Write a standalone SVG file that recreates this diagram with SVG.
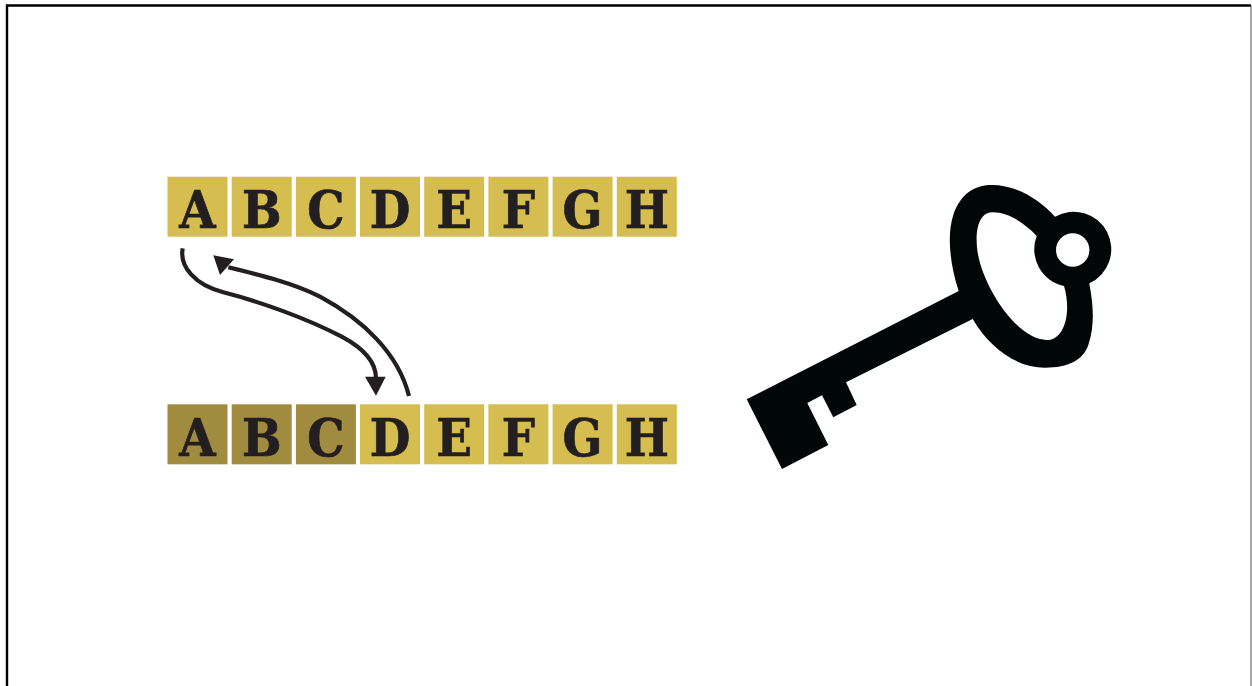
<svg xmlns="http://www.w3.org/2000/svg" width="1252" height="686" viewBox="0 0 1252 686">
<style>
.cell{fill:#d5bd4f}
.dim{fill:#a08b3e}
.lbl{font-family:"DejaVu Serif Condensed","DejaVu Serif","Liberation Serif",serif;font-weight:700;font-size:52px;fill:#231f20;stroke:#231f20;stroke-width:.7px;text-anchor:middle}
.arc{fill:none;stroke:#231f20;stroke-width:4.2}
.head{fill:#231f20}
</style>
<rect width="1252" height="686" fill="#fff"/>
<path d="M7 686V5.500H1251" fill="none" stroke="#000" stroke-width="2.400"/>
<path d="M1251 5.500V686" fill="none" stroke="#555" stroke-width="1"/>
<g id="top-A"><rect class="cell" x="167.500" y="176.700" width="60" height="60"/><text class="lbl" x="197.500" y="228.300">A</text></g>
<g id="top-B"><rect class="cell" x="231.700" y="176.700" width="60" height="60"/><text class="lbl" x="261.700" y="228.300">B</text></g>
<g id="top-C"><rect class="cell" x="295.900" y="176.700" width="60" height="60"/><text class="lbl" x="325.900" y="228.300">C</text></g>
<g id="top-D"><rect class="cell" x="360" y="176.700" width="60" height="60"/><text class="lbl" x="390" y="228.300">D</text></g>
<g id="top-E"><rect class="cell" x="424.200" y="176.700" width="60" height="60"/><text class="lbl" x="454.200" y="228.300">E</text></g>
<g id="top-F"><rect class="cell" x="488.400" y="176.700" width="60" height="60"/><text class="lbl" x="518.400" y="228.300">F</text></g>
<g id="top-G"><rect class="cell" x="552.600" y="176.700" width="60" height="60"/><text class="lbl" x="582.600" y="228.300">G</text></g>
<g id="top-H"><rect class="cell" x="616.800" y="176.700" width="60" height="60"/><text class="lbl" x="646.800" y="228.300">H</text></g>
<g id="bot-A"><rect class="dim" x="167.500" y="404.300" width="60" height="60"/><text class="lbl" x="197.500" y="455.800">A</text></g>
<g id="bot-B"><rect class="dim" x="231.700" y="404.300" width="60" height="60"/><text class="lbl" x="261.700" y="455.800">B</text></g>
<g id="bot-C"><rect class="dim" x="295.900" y="404.300" width="60" height="60"/><text class="lbl" x="325.900" y="455.800">C</text></g>
<g id="bot-D"><rect class="cell" x="360" y="404.300" width="60" height="60"/><text class="lbl" x="390" y="455.800">D</text></g>
<g id="bot-E"><rect class="cell" x="424.200" y="404.300" width="60" height="60"/><text class="lbl" x="454.200" y="455.800">E</text></g>
<g id="bot-F"><rect class="cell" x="488.400" y="404.300" width="60" height="60"/><text class="lbl" x="518.400" y="455.800">F</text></g>
<g id="bot-G"><rect class="cell" x="552.600" y="404.300" width="60" height="60"/><text class="lbl" x="582.600" y="455.800">G</text></g>
<g id="bot-H"><rect class="cell" x="616.800" y="404.300" width="60" height="60"/><text class="lbl" x="646.800" y="455.800">H</text></g>
<g id="connectors">
<path class="arc" d="M182.700 248.300C179.300 266.700 195 285 223.300 292.300C260 301.700 306.700 318.300 341.700 336.700C366.700 350 376 363.300 376 378.300"/>
<polygon class="head" points="365,376.700 385.700,376.700 376,395.700"/>
<path class="arc" d="M409 396C398.300 353.300 363.300 320 320 296.700C293.300 283.300 260 275 228.300 267.300"/>
<polygon class="head" points="213.300,255.300 234,259.300 220,275"/>
</g>
<g id="key">
<path fill="#010606" fill-rule="evenodd" d="M746.700 399.300L958.700 291C950 265 946.700 235 953.300 215C960 195 973.300 185 991.700 185C1016.700 185 1040 200 1055 216.700A37.500 37.500 0 1 1 1089.300 283.300C1093.300 305 1095 325 1088.300 345C1083.300 360 1068.300 367.700 1045 367.700C1016.700 367.700 990 348.300 972.700 319L846 382.300L856.700 405L833.300 417.300L822 395.300L807.300 403L828.300 445L782 469ZM1036.700 236C1023.300 221.700 1006.700 211.700 991.700 212.300C978.300 213.300 975 231.700 977.300 250C981.700 285 1016.700 340 1046.700 340C1065 340 1071.700 311.700 1064 286A37.500 37.500 0 0 1 1036.700 236Z"/>
<circle cx="1072.700" cy="250" r="16.700" fill="#fff"/>
</g>
</svg>
